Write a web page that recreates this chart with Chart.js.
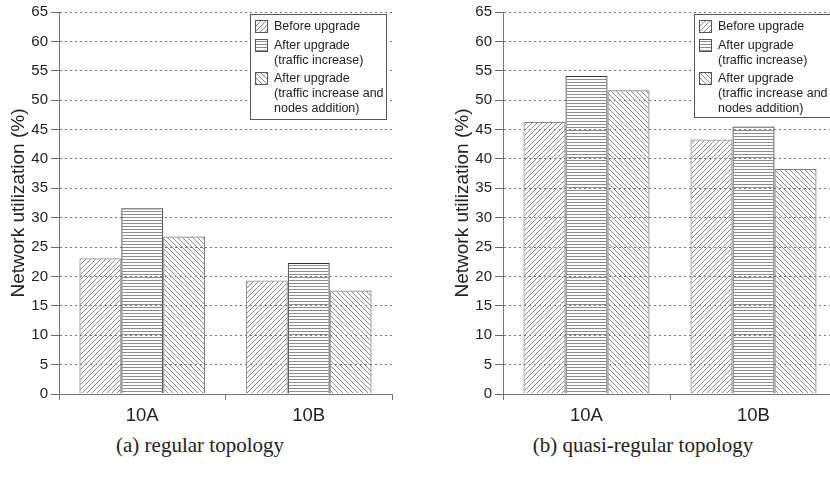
<!DOCTYPE html>
<html>
<head>
<meta charset="utf-8">
<script src="https://cdn.jsdelivr.net/npm/chart.js@4.4.1/dist/chart.umd.min.js"></script>
<style>
body { margin:0; width:830px; height:477px; overflow:hidden; background:#fff; position:relative; font-family:"Liberation Sans", Arial, sans-serif; }
.panel { position:absolute; top:0; }
.caption { position:absolute; top:433px; line-height:24px; font-family:"Liberation Serif", "Times New Roman", serif; font-size:21px; color:#222; transform:translateX(-50%); white-space:nowrap; }
.legend { position:absolute; top:14px; background:#fff; border:1px solid #555; font-size:12.5px; line-height:15px; color:#222; padding:4px 4px 2px 4px; box-sizing:border-box; }
.item { display:flex; align-items:flex-start; margin-bottom:3.5px; white-space:nowrap; }
.item canvas { margin-top:1px; margin-right:6px; border:1px solid #555; }
</style>
</head>
<body>
<div class="panel" style="left:0px;"><canvas id="regular" width="400" height="430"></canvas></div>
<div class="panel" style="left:420px;"><canvas id="quasi" width="420" height="430"></canvas></div>
<div class="legend" id="legend-regular" style="left:250px; width:137px; height:106px;"></div>
<div class="legend" id="legend-quasi" style="left:694px; width:140px; height:104px;"></div>
<div class="caption" style="left:200px;">(a) regular topology</div>
<div class="caption" style="left:643px;">(b) quasi-regular topology</div>
<script>
const categorias = ['10A', '10B'];
const nombresSeries = [
    ['Before upgrade'],
    ['After upgrade', '(traffic increase)'],
    ['After upgrade', '(traffic increase and', 'nodes addition)']
];
const regularAntes = [23.1, 19.3];
const regularTrafico = [31.6, 22.3];
const regularNodos = [26.8, 17.6];
const quasiAntes = [46.3, 43.3];
const quasiTrafico = [54.1, 45.5];
const quasiNodos = [51.7, 38.3];
const ejeY = { min: 0, max: 65, paso: 5 };

// tramas rayadas para las barras
function trama(tipo) {
    const c = document.createElement('canvas');
    const g = c.getContext('2d');
    if (tipo === 'horizontal') {
        c.width = 4; c.height = 3;
        g.fillStyle = '#8c8c8c';
        g.fillRect(0, 1, 4, 1);
    } else {
        const s = 5;
        c.width = s; c.height = s;
        g.strokeStyle = '#8a8a8a';
        g.lineWidth = 1;
        g.beginPath();
        if (tipo === 'slash') {
            g.moveTo(-1, s + 1); g.lineTo(s + 1, -1);
            g.moveTo(-1, 1); g.lineTo(1, -1);
            g.moveTo(s - 1, s + 1); g.lineTo(s + 1, s - 1);
        } else {
            g.moveTo(-1, -1); g.lineTo(s + 1, s + 1);
            g.moveTo(s - 1, -1); g.lineTo(s + 1, 1);
            g.moveTo(-1, s - 1); g.lineTo(1, s + 1);
        }
        g.stroke();
    }
    return g.createPattern(c, 'repeat');
}

const tipos = ['slash', 'horizontal', 'backslash'];
const bordes = ['#8a8a8a', '#333333', '#7a7a7a'];

function crearGrafico(id, valores, padIzq, padDer) {
    const ctx = document.getElementById(id).getContext('2d');
    return new Chart(ctx, {
        type: 'bar',
        data: {
            labels: categorias,
            datasets: valores.map((v, i) => ({
                label: nombresSeries[i].join(' '),
                data: v,
                backgroundColor: trama(tipos[i]),
                borderColor: bordes[i],
                borderWidth: 1,
                borderSkipped: 'bottom',
                categoryPercentage: 0.755,
                barPercentage: 1.0
            }))
        },
        options: {
            responsive: false,
            animation: false,
            layout: { padding: { top: 11, right: padDer, left: padIzq, bottom: 0 } },
            plugins: { legend: { display: false }, tooltip: { enabled: false } },
            scales: {
                x: {
                    offset: true,
                    afterFit: s => { s.height = 36; },
                    grid: { offset: true, drawOnChartArea: false, tickLength: 6, color: '#777' },
                    border: { color: '#777', width: 1 },
                    ticks: { color: '#222', padding: 5, font: { family: 'Liberation Sans', size: 18.5 } }
                },
                y: {
                    min: ejeY.min,
                    max: ejeY.max,
                    afterFit: s => { s.width = 59; },
                    ticks: { stepSize: ejeY.paso, color: '#222', padding: 3, font: { family: 'Liberation Sans', size: 15 } },
                    grid: { color: '#777', tickLength: 8, tickColor: '#666', tickBorderDash: [] },
                    border: { color: '#777', width: 1, dash: [2, 3] },
                    title: { display: true, text: 'Network utilization (%)', color: '#222', padding: { top: 7, bottom: 0 }, font: { family: 'Liberation Sans', size: 19 } }
                }
            }
        }
    });
}

crearGrafico('regular', [regularAntes, regularTrafico, regularNodos], 0, 8);
crearGrafico('quasi', [quasiAntes, quasiTrafico, quasiNodos], 24, 3);

function crearLeyenda(id) {
    const caja = document.getElementById(id);
    nombresSeries.forEach((lineas, i) => {
        const fila = document.createElement('div');
        fila.className = 'item';
        const muestra = document.createElement('canvas');
        muestra.width = 11; muestra.height = 11;
        const g = muestra.getContext('2d');
        g.fillStyle = trama(tipos[i]);
        g.fillRect(0, 0, 11, 11);
        const texto = document.createElement('div');
        texto.innerHTML = lineas.join('<br>');
        fila.appendChild(muestra);
        fila.appendChild(texto);
        caja.appendChild(fila);
    });
}
crearLeyenda('legend-regular');
crearLeyenda('legend-quasi');
</script>
</body>
</html>
